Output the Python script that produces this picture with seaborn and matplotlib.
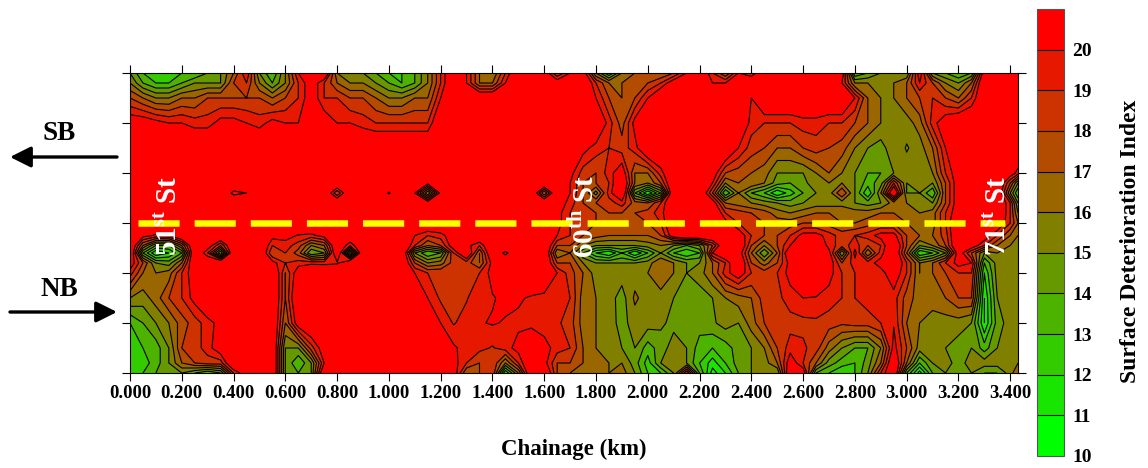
import numpy as np
import matplotlib
matplotlib.use("Agg")
import matplotlib.pyplot as plt
import seaborn as sns
from matplotlib.cm import ScalarMappable
from matplotlib.colors import ListedColormap, BoundaryNorm

# chainage (km) along the corridor, and lateral position (0 = NB edge, 6 = SB edge)
chainage = [0.00, 0.05, 0.10, 0.15, 0.20, 0.25, 0.30, 0.35, 0.40, 0.45,
            0.50, 0.55, 0.60, 0.65, 0.70, 0.75, 0.80, 0.85, 0.90, 0.95,
            1.00, 1.05, 1.10, 1.15, 1.20, 1.25, 1.30, 1.35, 1.40, 1.45,
            1.50, 1.55, 1.60, 1.65, 1.70, 1.75, 1.80, 1.85, 1.90, 1.95,
            2.00, 2.05, 2.10, 2.15, 2.20, 2.25, 2.30, 2.35, 2.40, 2.45,
            2.50, 2.55, 2.60, 2.65, 2.70, 2.75, 2.80, 2.85, 2.90, 2.95,
            3.00, 3.05, 3.10, 3.15, 3.20, 3.25, 3.30, 3.35, 3.40, 3.43]
offsets = [0.0, 0.2, 0.5, 1.0, 1.5, 2.0, 2.2, 2.4, 2.55, 2.75, 3.0, 3.2, 3.4, 3.6, 3.8, 4.0, 4.5, 5.0, 5.5, 5.8, 6.0]

# surface deterioration index, one list per lateral position
sdi_000 = [13, 13, 14, 15, 15, 14, 13, 14, 19, 21,
           20, 22, 15, 14, 15, 22, 22, 22, 22, 22,
           20.5, 22, 20, 22, 22, 21, 17, 18, 19, 12,
           16, 22, 22, 18, 17, 17, 17, 16, 16.5, 15,
           13, 13, 15, 20, 14, 10.5, 12, 14, 15, 15.5,
           15, 22, 21, 14, 13, 12, 13, 15, 19, 22,
           14, 10.5, 14, 15, 15, 15, 14, 14, 15.5, 17]
sdi_020 = [12, 12.5, 13.5, 15, 17, 18, 18.5, 18.5, 22, 22,
           22, 22, 15, 13, 15, 20, 22, 22, 22, 22,
           22, 22, 22, 22, 22, 20.5, 19, 18, 19, 16,
           19, 22, 20.5, 18, 18, 17, 16.5, 16, 16, 14.5,
           12.5, 15, 16, 15, 13, 11.5, 13, 14.5, 15, 15.5,
           17, 21, 19, 17, 14.5, 13.5, 13, 14.5, 17, 22,
           17, 13, 15, 15.5, 14.5, 15.5, 15.5, 15.5, 15.5, 16]
sdi_050 = [12, 13, 13.5, 15, 18, 18.5, 19.5, 21, 22, 22,
           22, 22, 15, 15, 18.5, 21, 22, 22, 22, 22,
           22, 22, 22, 22, 22, 20.2, 19.5, 19.3, 18.9, 19.5,
           20.5, 22, 20.5, 19.5, 19, 17, 16, 15.5, 15, 15,
           13.5, 14.5, 15.5, 15, 13.5, 13, 13.5, 14.5, 15, 16,
           18, 19.5, 19.2, 18.5, 16.5, 15, 14, 14, 16, 20.5,
           18, 15.5, 15.5, 15, 14.5, 15, 13.5, 15, 15.5, 15.5]
sdi_100 = [13, 14, 15, 16, 17.5, 18.5, 19.5, 20.5, 22, 22,
           22, 22, 17, 21, 22, 22, 22, 22, 22, 22,
           22, 22, 22, 21, 20, 18.9, 19.5, 19.9, 20.1, 19.9,
           19.7, 19.5, 19.4, 19.2, 18.5, 16.5, 16, 15.5, 14.6, 15.5,
           15.5, 15.2, 14.7, 14.5, 14.5, 14.8, 15.5, 15, 16.5, 18,
           18.5, 18.6, 18.7, 18.8, 18.5, 18.2, 18.5, 18.5, 19, 19.9,
           17, 16, 15.5, 15.5, 15.5, 15, 11, 14.5, 15.5, 15.7]
sdi_150 = [16, 15.5, 16.5, 18, 19, 20.5, 22, 22, 22, 22,
           22, 22, 18, 22, 22, 22, 22, 22, 22, 22,
           22, 22, 21, 20, 18.8, 18.7, 18.9, 19.8, 19.9, 20.3,
           20.2, 19.8, 19.5, 19.3, 19, 16.5, 16, 15.5, 14.5, 16.2,
           15.5, 15.5, 15, 14.5, 14.5, 15, 16, 16.5, 17, 18.5,
           18.7, 19.5, 20, 19.9, 19.5, 19, 19, 19.5, 19.5, 19.5,
           17.5, 16.5, 16.5, 17, 18, 18, 11, 15, 15.5, 15.5]
sdi_200 = [19.5, 17, 16, 16.5, 19, 21, 22, 22, 22, 22,
           22, 22, 18, 21, 22, 22, 22, 22, 22, 22,
           22, 22, 20, 19, 19, 19, 19, 19, 20.5, 22,
           22, 22, 22, 20, 18.5, 17, 15.5, 15.5, 15.5, 15.5,
           16, 17, 16, 15, 15.5, 17, 19.5, 21, 19, 18.5,
           19, 20.5, 22, 22, 20.5, 19, 19, 19.5, 19.5, 21,
           19, 16, 17, 18, 19, 19, 12, 15.5, 15.5, 15.5]
sdi_220 = [21, 18, 15, 14.5, 17, 22, 22, 22, 22, 22,
           22, 20.5, 19, 19.5, 19.7, 19.6, 19.8, 22, 22, 22,
           22, 22, 18, 16, 16.5, 18.5, 18.5, 17, 20.5, 22,
           22, 22, 22, 18, 18, 16, 15, 15, 15, 15,
           15.5, 17, 16, 15, 15, 17, 19, 22, 18, 16.5,
           18, 20.5, 22, 22, 21, 18, 19.5, 19.5, 20.5, 22,
           19, 16, 17, 19, 20.5, 20, 13, 15.5, 15.5, 15.5]
sdi_240 = [22, 14, 11, 12, 14, 22, 19, 14, 22, 22,
           22, 18, 19, 17.5, 14, 15, 22, 14, 22, 22,
           22, 22, 15, 13, 14, 19, 22, 17, 22, 19.5,
           22, 22, 22, 16, 17, 14, 12, 11, 13, 11,
           13, 15, 13, 12, 13, 20, 22, 21, 17, 14,
           17, 22, 22, 22, 20.5, 15, 20.5, 16, 19.5, 22,
           17, 12, 13, 15, 21, 18, 15, 16, 15.5, 15]
sdi_255 = [22, 17, 14, 14, 17, 22, 21, 18, 22, 22,
           22, 19, 19.5, 18.5, 16, 17, 22, 19, 22, 22,
           22, 22, 19, 17, 18, 21, 20.5, 19, 22, 22,
           22, 22, 22, 18, 18, 16, 15, 15, 15, 15,
           15.5, 16, 15, 14, 15, 18, 22, 22, 18, 16,
           18, 20, 22, 22, 19.5, 18.5, 19.5, 18, 19, 22,
           18, 15, 16, 18, 22, 21, 19, 17, 16, 16]
sdi_275 = [22, 20.5, 19.8, 20, 22, 22, 22, 22, 22, 22,
           22, 20.5, 20.5, 19.9, 19.7, 20.5, 22, 22, 22, 22,
           22, 22, 20, 19, 19.5, 21, 22, 22, 22, 22,
           22, 22, 22, 20, 19, 18, 17.5, 17, 17, 17,
           17, 18, 21, 22, 22, 22, 22, 21, 19, 18,
           18, 19, 20.5, 20.5, 19.5, 18.5, 19, 19.5, 20.5, 20.5,
           18, 17, 17, 18.5, 22, 22, 21, 19, 17, 16]
sdi_300 = [22, 22, 22, 22, 22, 22, 22, 22, 22, 22,
           22, 22, 22, 22, 22, 22, 22, 22, 22, 22,
           22, 22, 22, 22, 22, 22, 22, 22, 22, 22,
           22, 22, 22, 20.5, 19, 18.5, 18, 17.5, 17.5, 17.5,
           18, 19, 22, 22, 22, 22, 20.5, 19, 18.5, 18,
           17.5, 17.5, 18, 18, 17.5, 17, 17, 17.5, 18, 18,
           17, 16.5, 16.5, 19, 22, 22, 22, 21.5, 19, 17]
sdi_320 = [22, 22, 22, 22, 22, 22, 22, 22, 22, 22,
           22, 22, 22, 22, 22, 22, 22, 22, 22, 22,
           22, 22, 22, 22, 22, 22, 22, 22, 22, 22,
           22, 22, 22, 20.5, 19, 18.5, 18, 18, 18, 18,
           18.5, 19.5, 22, 22, 22, 22, 19, 18.5, 18, 17.5,
           16.5, 16, 16.5, 17, 17, 17, 16.5, 16.5, 17, 17,
           16.5, 16, 16.5, 19, 21, 22, 22, 22, 19, 16]
sdi_340 = [22, 22, 22, 22, 22, 22, 22, 22, 22, 22,
           22, 22, 22, 22, 22, 22, 22, 22, 22, 22,
           22, 22, 22, 21, 22, 22, 22, 22, 22, 22,
           22, 22, 22, 21, 19.5, 18, 18, 18.5, 19.5, 17.5,
           17, 19, 22, 22, 22, 21, 17, 16.5, 16, 15.5,
           15, 14.5, 15, 15.5, 15.5, 15.5, 15, 14.5, 15, 16.5,
           16, 15.5, 15, 18, 21, 22, 22, 22, 19, 15]
sdi_360 = [22, 22, 22, 22, 22, 22, 22, 22, 19.5, 20,
           22, 22, 22, 22, 22, 22, 18, 22, 22, 22,
           19.8, 22, 20, 15, 20.5, 22, 22, 22, 22, 22,
           22, 22, 17, 22, 20, 18, 15.5, 19.5, 22, 14,
           11, 14, 22, 22, 22, 18, 13, 16, 14, 13,
           11, 12.5, 14, 15, 15.5, 18, 15, 12, 16, 22,
           15, 15, 13, 18, 21, 22, 22, 22, 16, 13]
sdi_380 = [22, 22, 22, 22, 22, 22, 22, 22, 22, 22,
           22, 22, 22, 22, 22, 22, 22, 22, 22, 22,
           22, 22, 22, 20.5, 22, 22, 22, 22, 22, 22,
           22, 22, 22, 22, 20, 18, 18, 19, 22, 17,
           16, 18, 22, 22, 22, 20, 16, 17, 17, 16,
           14.5, 14, 14.5, 16, 16, 16, 15, 13.5, 14.5, 19,
           15, 15.5, 15, 18, 21, 22, 22, 22, 18, 15]
sdi_400 = [22, 22, 22, 22, 22, 22, 22, 22, 22, 22,
           22, 22, 22, 22, 22, 22, 22, 22, 22, 22,
           22, 22, 22, 22, 22, 22, 22, 22, 22, 22,
           22, 22, 22, 22, 20.5, 18.5, 18, 19.5, 21, 17,
           17, 19.5, 22, 22, 22, 21, 18, 17.5, 17, 16.5,
           15, 15, 15, 16, 17, 16, 15, 14, 14, 15,
           15.5, 15.5, 16, 19, 21, 22, 22, 22, 21, 19.5]
sdi_450 = [22, 22, 22, 22, 22, 22, 22, 22, 22, 22,
           22, 22, 22, 22, 22, 22, 22, 22, 22, 22,
           22, 22, 22, 22, 22, 22, 22, 22, 22, 22,
           22, 22, 22, 22, 22, 20.5, 19.5, 19, 18.5, 19.5,
           22, 22, 22, 22, 22, 22, 22, 20, 18.5, 18,
           17, 17, 18, 18.5, 18, 17.5, 16, 15, 14.5, 15.8,
           14.9, 15.5, 17, 20, 22, 22, 22, 22, 22, 22]
sdi_500 = [21, 21, 20.5, 20, 20, 19.5, 19.5, 20.5, 20.5, 20,
           19.5, 20.5, 20, 20, 22, 21, 20, 20, 19.5, 19,
           19, 19, 19, 19, 22, 22, 22, 22, 22, 22,
           22, 22, 22, 22, 22, 21, 22, 19.5, 17.5, 20.5,
           22, 22, 22, 22, 22, 22, 22, 22, 19.5, 19,
           19, 19, 19.5, 19.5, 19, 19, 18, 17, 16, 16,
           15.5, 16.5, 19.5, 21, 22, 22, 22, 22, 22, 22]
sdi_550 = [18, 17, 16, 16, 17, 17, 18, 18, 18, 18,
           18, 17, 18, 19, 21, 19, 19, 18, 18, 17,
           16, 16, 17, 17, 20, 22, 22, 22, 22, 22,
           22, 22, 22, 22, 22, 22, 20, 18, 17, 18,
           20, 22, 22, 22, 22, 22, 22, 22, 20, 22,
           22, 22, 22, 22, 22, 22, 20, 17, 16, 16,
           17, 18, 19, 18, 17, 19, 22, 22, 22, 22]
sdi_580 = [16, 14, 13, 13, 14, 15, 15, 15, 18, 19,
           16, 14, 16, 19, 21, 19, 17, 16, 16, 15,
           14, 13, 14, 16, 19, 22, 20, 17, 17, 20,
           22, 22, 22, 21, 22, 22, 19, 17, 17, 18,
           18, 19, 21, 21, 22, 20, 20, 22, 22, 22,
           22, 22, 22, 22, 22, 20, 16, 16, 16, 16,
           17, 20, 18, 16, 15, 17, 22, 22, 22, 22]
sdi_600 = [15, 13, 12, 12, 13, 13, 14, 15, 17, 20,
           15, 13, 16, 20, 22, 22, 16, 15, 15, 14,
           13, 13, 14, 16, 19, 22, 20, 17, 16, 19,
           22, 22, 21, 18, 20, 21, 16, 13, 16, 17,
           17, 17, 18, 20, 22, 19, 17, 20, 19, 22,
           22, 22, 22, 22, 22, 21, 13, 14, 15, 15,
           15, 21, 15, 14, 13, 14, 21, 22, 22, 22]

levels = [10, 11, 12, 13, 14, 15, 16, 17, 18, 19, 20, 21]
x_ticks = [0.0, 0.2, 0.4, 0.6, 0.8, 1.0, 1.2, 1.4, 1.6, 1.8, 2.0, 2.2, 2.4, 2.6, 2.8, 3.0, 3.2, 3.4]
x_labels = ["0.000", "0.200", "0.400", "0.600", "0.800", "1.000", "1.200", "1.400", "1.600",
            "1.800", "2.000", "2.200", "2.400", "2.600", "2.800", "3.000", "3.200", "3.400"]
y_ticks = [0, 1, 2, 3, 4, 5, 6]

sns.set_theme(style="ticks", rc={"text.color": "black", "axes.labelcolor": "black",
                                 "xtick.color": "black", "ytick.color": "black"})
plt.rcParams["font.family"] = ["Liberation Serif", "DejaVu Serif"]
plt.rcParams["font.weight"] = "bold"
plt.rcParams["mathtext.fontset"] = "custom"
plt.rcParams["mathtext.bf"] = "Liberation Serif:bold"
plt.rcParams["mathtext.rm"] = "Liberation Serif:bold"

W, H = 1148, 468


def px_rect(left, top, right, bottom):
    return [left / W, 1 - bottom / H, (right - left) / W, (bottom - top) / H]


Z = np.array([sdi_000, sdi_020, sdi_050, sdi_100, sdi_150, sdi_200, sdi_220, sdi_240, sdi_255,
              sdi_275, sdi_300, sdi_320, sdi_340, sdi_360, sdi_380, sdi_400, sdi_450, sdi_500,
              sdi_550, sdi_580, sdi_600])

# green -> red in 11 flat bands, everything over 20 stays red
palette = sns.blend_palette(["#00FF00", "#FF0000"], 11)
cmap = ListedColormap(palette)
cmap.set_over("#FF0000")
norm = BoundaryNorm(levels, cmap.N)

fig = plt.figure(figsize=(W / 100, H / 100), dpi=100)
ax = fig.add_axes(px_rect(130, 73, 1018, 373))
ax.contourf(chainage, offsets, Z, levels=levels, cmap=cmap, norm=norm, extend="max")
ax.contour(chainage, offsets, Z, levels=levels[:-1], colors="black", linewidths=0.8)

ax.set_xlim(0, 3.43)
ax.set_ylim(0, 6)
ax.set_xticks(x_ticks)
ax.set_xticklabels(x_labels, fontsize=13.5, fontweight="bold")
ax.set_yticks(y_ticks)
ax.set_yticklabels([])
ax.tick_params(axis="both", which="major", direction="out", length=6, width=0.8, color="black",
               top=True, right=True, bottom=True, left=True, pad=3)
ax.set_xlabel("Chainage (km)", fontsize=16.5, fontweight="bold", labelpad=26)
for side in ax.spines.values():
    side.set_linewidth(0.8)
    side.set_color("black")

# centre line between the two directions
ax.plot([0.03, 3.38], [3, 3], color="#FFFF00", linewidth=4.7, dashes=(6.3, 2.3),
        dash_capstyle="butt", zorder=5)

ax.text(0.15, 3.13, "51$^{\\mathbf{st}}$ St", color="white", fontsize=21, rotation=90,
        ha="center", va="center", fontweight="bold", zorder=6)
ax.text(1.755, 3.13, "60$^{\\mathbf{th}}$ St", color="white", fontsize=21, rotation=90,
        ha="center", va="center", fontweight="bold", zorder=6)
ax.text(3.355, 3.13, "71$^{\\mathbf{st}}$ St", color="white", fontsize=21, rotation=90,
        ha="center", va="center", fontweight="bold", zorder=6)

# direction labels sit outside the axes
fig.text(59 / W, 1 - 134 / H, "SB", fontsize=19.5, fontweight="bold", ha="center", va="center", color="black")
fig.text(59 / W, 1 - 289 / H, "NB", fontsize=19.5, fontweight="bold", ha="center", va="center", color="black")
arrow = dict(arrowstyle="-|>,head_length=0.9,head_width=0.45", color="black", linewidth=2.4,
             shrinkA=0, shrinkB=0, mutation_scale=14)
ax.annotate("", xy=(10 / W, 1 - 157 / H), xytext=(117 / W, 1 - 157 / H), xycoords="figure fraction",
            textcoords="figure fraction", arrowprops=arrow, annotation_clip=False)
ax.annotate("", xy=(117 / W, 1 - 312 / H), xytext=(10 / W, 1 - 312 / H), xycoords="figure fraction",
            textcoords="figure fraction", arrowprops=arrow, annotation_clip=False)

# colour bar comes from its own mappable so the top band closes flat at 21
cax = fig.add_axes(px_rect(1037, 9, 1064, 456))
cbar = fig.colorbar(ScalarMappable(norm=norm, cmap=cmap), cax=cax, extend="neither",
                    drawedges=True, ticks=levels[:-1])
cbar.dividers.set_color("black")
cbar.dividers.set_linewidth(0.8)
cbar.outline.set_edgecolor("#555555")
cbar.outline.set_linewidth(0.8)
cbar.minorticks_off()
cax.tick_params(length=0, labelsize=14, pad=6)
for lab in cax.get_yticklabels():
    lab.set_fontweight("bold")
fig.text(1130 / W, 1 - 241 / H, "Surface Deterioration Index", rotation=90, fontsize=17,
         fontweight="bold", ha="center", va="center", color="black")

fig.savefig("out.png", dpi=100)
